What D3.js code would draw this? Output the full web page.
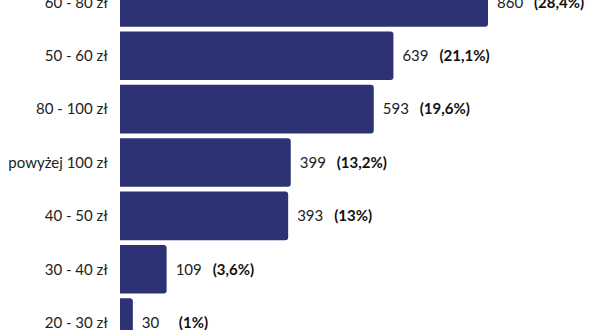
<!DOCTYPE html>
<html>
<head>
<meta charset="utf-8">
<script src="https://cdn.jsdelivr.net/npm/d3@7"></script>
<style>
  html, body { margin: 0; padding: 0; background: #fff; }
  svg { display: block; font-family: Lato, "Open Sans", sans-serif; }
</style>
</head>
<body>
<div id="chart"></div>
<script>
// data
const categories = ["60 - 80 zł", "50 - 60 zł", "80 - 100 zł", "powyżej 100 zł", "40 - 50 zł", "30 - 40 zł", "20 - 30 zł"];
const counts = [860, 639, 593, 399, 393, 109, 30];
const shares = ["(28,4%)", "(21,1%)", "(19,6%)", "(13,2%)", "(13%)", "(3,6%)", "(1%)"];

const width = 600;
const height = 330;
const barColor = "#2c3273";

const svg = d3.select("#chart")
    .append("svg")
    .attr("width", width)
    .attr("height", height);

// chart is cropped at top and bottom in the reference, so range runs past the frame
const y = d3.scaleBand()
    .domain(categories)
    .range([-23, 348])
    .paddingInner(0.09)
    .paddingOuter(0.02);

const x = d3.scaleLinear()
    .domain([0, 860])
    .range([120, 488]);

const rows = categories.map((c, i) => ({cat: c, n: counts[i], pct: shares[i]}));

// bars, rounded on the right end only
const r = 3;
svg.selectAll("path.bar")
    .data(rows)
    .join("path")
    .attr("class", "bar")
    .attr("fill", barColor)
    .attr("d", d => {
        const x0 = x(0), x1 = x(d.n), y0 = y(d.cat), h = y.bandwidth();
        return `M${x0},${y0}H${x1 - r}Q${x1},${y0} ${x1},${y0 + r}` +
               `V${y0 + h - r}Q${x1},${y0 + h} ${x1 - r},${y0 + h}H${x0}Z`;
    });

// category labels
svg.selectAll("text.cat")
    .data(rows)
    .join("text")
    .attr("class", "cat")
    .attr("x", 108)
    .attr("y", d => y(d.cat) + y.bandwidth() / 2)
    .attr("dy", "0.35em")
    .attr("text-anchor", "end")
    .attr("font-size", 15)
    .attr("fill", "#222")
    .text(d => d.cat);

// counts
svg.selectAll("text.num")
    .data(rows)
    .join("text")
    .attr("class", "num")
    .attr("x", d => x(d.n) + 9)
    .attr("y", d => y(d.cat) + y.bandwidth() / 2)
    .attr("dy", "0.35em")
    .attr("font-size", 15)
    .attr("fill", "#222")
    .text(d => d.n);

// shares in bold
svg.selectAll("text.pct")
    .data(rows)
    .join("text")
    .attr("class", "pct")
    .attr("x", d => x(d.n) + 46)
    .attr("y", d => y(d.cat) + y.bandwidth() / 2)
    .attr("dy", "0.35em")
    .attr("font-size", 15)
    .attr("font-weight", "bold")
    .attr("fill", "#111")
    .text(d => d.pct);
</script>
</body>
</html>
